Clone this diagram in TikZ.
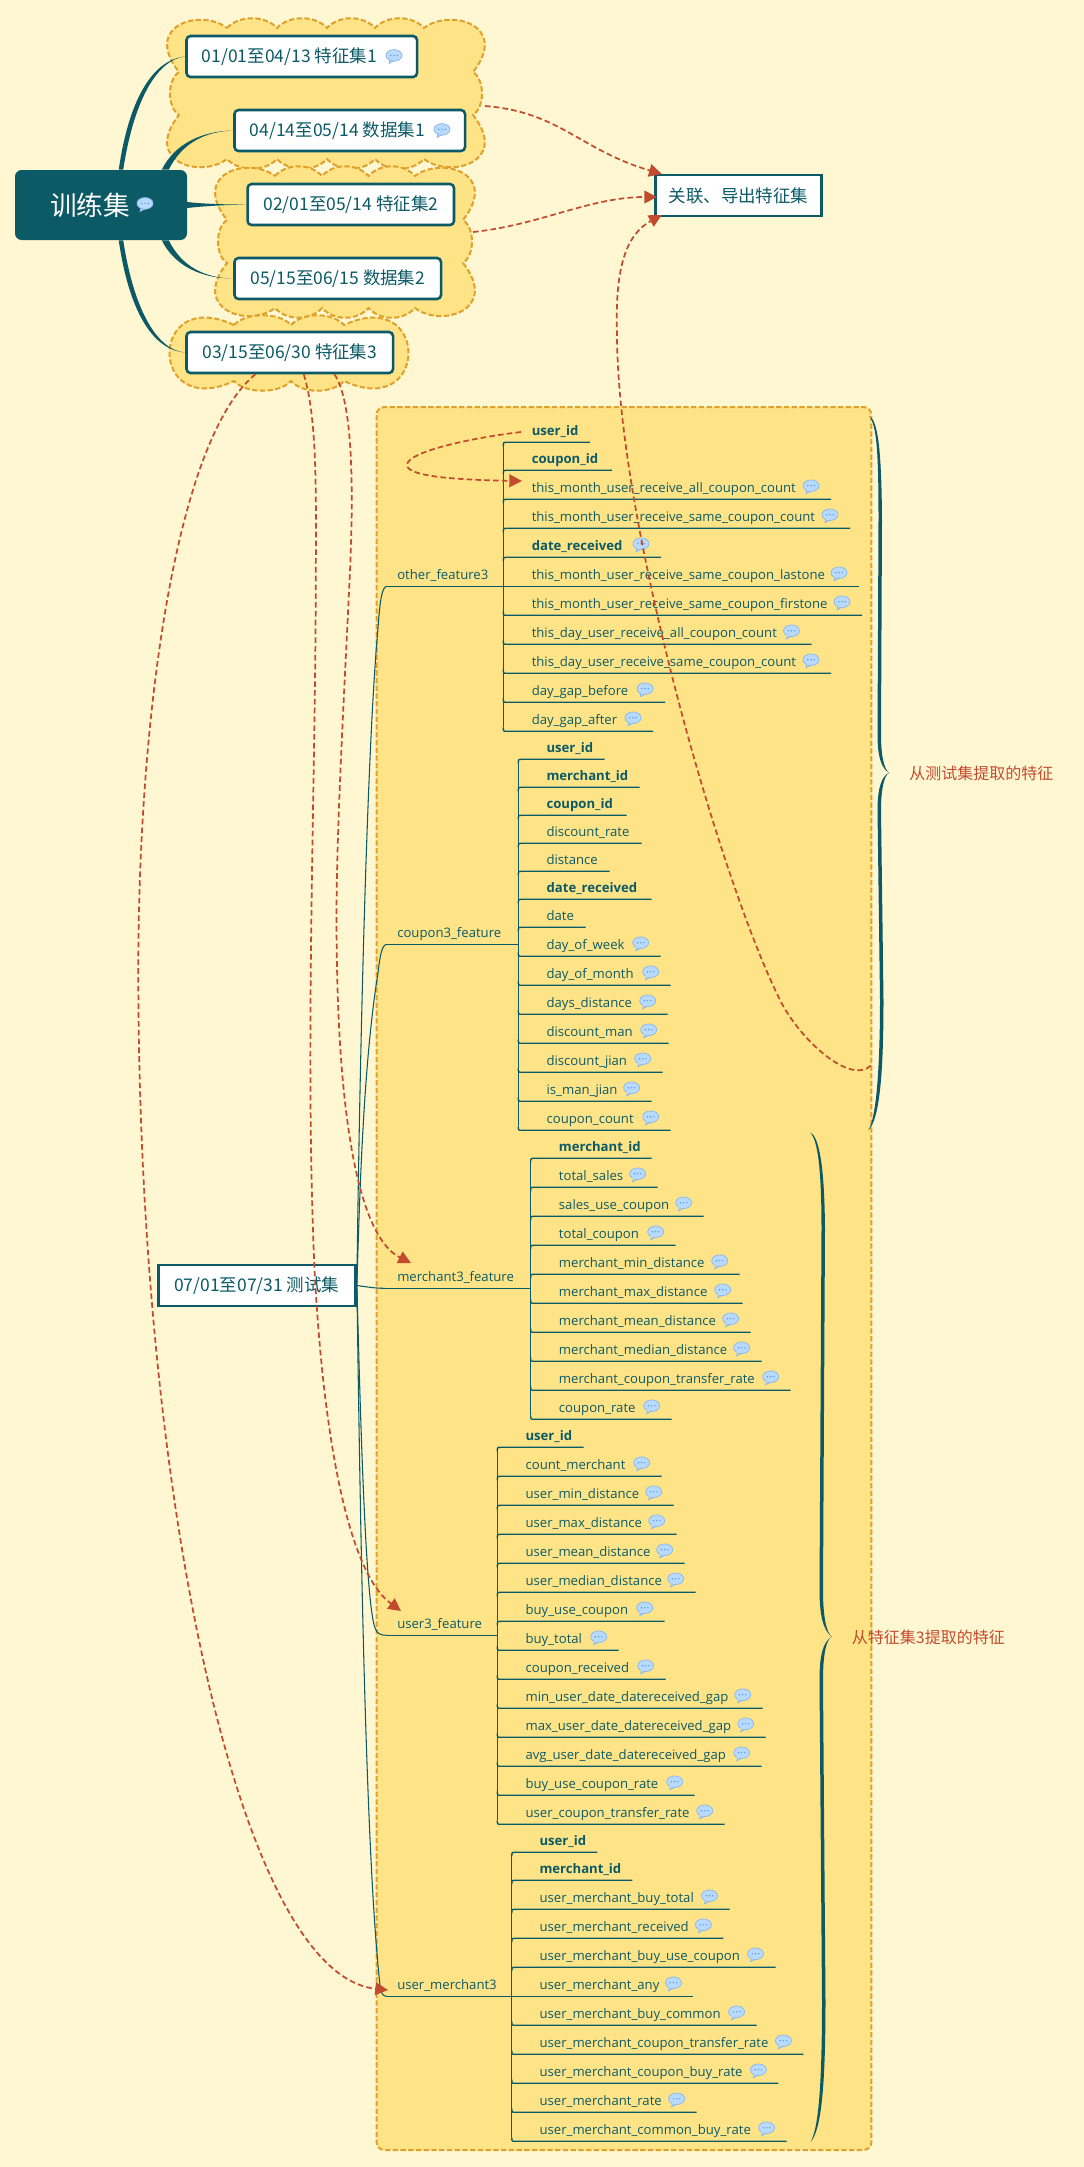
\documentclass[tikz,border=0pt]{standalone}
\usepackage{fontspec}
\setmainfont{Open Sans}
\newfontfamily\cjk{Noto Sans CJK SC}
\usetikzlibrary{arrows.meta,calc}
\definecolor{bgc}{HTML}{FFF7D2}
\definecolor{grpc}{HTML}{FFE487}
\definecolor{dashc}{HTML}{E0A12B}
\definecolor{teal}{HTML}{0B5A66}
\definecolor{redc}{HTML}{C24B2E}
\definecolor{bubf}{HTML}{B9DAFF}
\definecolor{bubd}{HTML}{8AB8EC}
\definecolor{bubp}{HTML}{5C9DE8}
\tikzset{
  x=0.75pt,y=-0.75pt,
  grp/.style={fill=grpc,draw=dashc,line width=1.5pt,dash pattern=on 4pt off 1.8pt},
  tbox/.style={draw=teal,fill=white,line width=1.9pt,rounded corners=3pt,inner sep=0pt,minimum height=30.75pt,text=teal,font=\cjk\fontsize{13.1}{15}\selectfont},
  sbox/.style={tbox,rounded corners=0pt,line width=2.2pt},
  rootbox/.style={fill=teal,rounded corners=5pt,inner sep=0pt,text=white,minimum width=129pt,minimum height=52.5pt,font=\cjk\fontsize{20}{24}\selectfont},
  rowtext/.style={inner sep=0pt,anchor=base west,text=teal,font=\fontsize{9.85}{12}\selectfont},
  rowline/.style={draw=teal,line width=1pt},
  conn/.style={draw=teal,line width=.8pt},
  link/.style={draw=redc,line width=1.3pt,dash pattern=on 4.2pt off 2.4pt,-{Triangle[length=9.5pt,width=9.5pt,fill=redc]}},
  branch/.style={fill=teal,draw=none},
  note/.style={inner sep=0pt,text=redc,font=\cjk\fontsize{12}{14}\selectfont},
  cmt/.pic={
    \path[fill=bubf,draw=bubd,line width=.55pt] (-4,3.4) -- (-5,7.5) -- (0.5,4.6) -- cycle;
    \path[fill=bubf,draw=bubd,line width=.55pt] (0,-0.6) ellipse [x radius=8,y radius=5.8];
    \path[fill=bubf] (-4.3,2.6) rectangle (0.6,4.4);
    \foreach \dx in {-3.2,0,3.2}{\path[fill=bubp] (\dx,-0.6) circle [radius=0.8];}
  }
}
% rows of one topic: prefix, spine x, text x, centre y, first y, last y, list
\newcommand\rowsof[7]{%
  \draw[rowline] (#2,#5+4) -- (#2,#6-4);
  \foreach \yy/\xe/\kk/\txt [count=\ii] in {#7}{%
    \if b\kk\def\rowf{\bfseries}\else\if d\kk\def\rowf{\bfseries}\else\def\rowf{}\fi\fi
    \node[rowtext] (#1r\ii) at (#3,\yy-7.3) {\rowf\txt};
    \coordinate (#1e\ii) at (\xe,\yy);
    \ifdim\yy pt<#4pt
      \draw[rowline] (#2,\yy+4) .. controls (#2,\yy) .. (#2+4,\yy) -- (#1e\ii);
    \else\ifdim\yy pt>#4pt
      \draw[rowline] (#2,\yy-4) .. controls (#2,\yy) .. (#2+4,\yy) -- (#1e\ii);
    \else
      \draw[rowline] (#2,\yy) -- (#1e\ii);
    \fi\fi
    \if c\kk\pic at (\xe-20,\yy-13) {cmt};\fi
    \if d\kk\pic at (\xe-20,\yy-13) {cmt};\fi
  }%
}
\begin{document}
\begin{tikzpicture}
\useasboundingbox (0,0) rectangle (1084,2167);
\fill[bgc] (0,0) rectangle (1084,2167);
% clouds
\path[grp] (227,28) foreach \x in {277,327,375,424}{ .. controls +(12,-13) and +(-12,-13) .. (\x,28)}
  .. controls +(26,-20) and +(37,-47) .. (473,72)
  .. controls +(12,8) and +(12,-8) .. (473,115)
  .. controls +(37,47) and +(26,20) .. (424,159)
  foreach \x in {375,327,277,227}{ .. controls +(-12,13) and +(12,13) .. (\x,159)}
  .. controls +(-26,20) and +(-37,47) .. (179,115)
  .. controls +(-12,-8) and +(-12,8) .. (179,72)
  .. controls +(-37,-47) and +(-26,-20) .. (227,28) -- cycle;
\path[grp] (275,176) foreach \x in {322,368.5,415}{ .. controls +(12,-13) and +(-12,-13) .. (\x,176)}
  .. controls +(26,-20) and +(37,-47) .. (463,220)
  .. controls +(12,8) and +(12,-8) .. (463,263)
  .. controls +(37,47) and +(26,20) .. (415,308)
  foreach \x in {368.5,322,275}{ .. controls +(-12,13) and +(12,13) .. (\x,308)}
  .. controls +(-26,20) and +(-37,47) .. (227,263)
  .. controls +(-12,-8) and +(-12,8) .. (227,220)
  .. controls +(-37,-47) and +(-26,-20) .. (275,176) -- cycle;
\path[grp] (234,325) foreach \x in {291,344}{ .. controls +(12,-13) and +(-12,-13) .. (\x,325)}
  .. controls (430,285) and (430,421) .. (344,381)
  foreach \x in {291,234}{ .. controls +(-12,13) and +(12,13) .. (\x,381)}
  .. controls (148,421) and (148,285) .. (234,325) -- cycle;
% big group
\path[grp,rounded corners=6pt] (376.5,407) rectangle (871.4,2150);
% main nodes
\node[rootbox] (root) at (101,205) {\hspace*{-16.5pt}训练集};
\pic at (145,204) {cmt};
\node[tbox,minimum width=172.9pt] (b1) at (301.75,56.5) {\hspace*{-18.6pt}01/01至04/13 特征集1};
\pic at (394,56) {cmt};
\node[tbox,minimum width=172.9pt] (b2) at (349.75,130.5) {\hspace*{-18.6pt}04/14至05/14 数据集1};
\pic at (442,130) {cmt};
\node[tbox,minimum width=154.8pt] (b3) at (350.8,204.5) {02/01至05/14 特征集2};
\node[tbox,minimum width=154.9pt] (b4) at (337.75,278.5) {05/15至06/15 数据集2};
\node[tbox,minimum width=154.9pt] (b5) at (289.75,352.5) {03/15至06/30 特征集3};
\node[sbox,minimum width=148pt] (test) at (256.75,1285.5) {07/01至07/31 测试集};
\node[sbox,minimum width=124.2pt] (out) at (738.5,195.5) {关联、导出特征集};
% root branches
\path[branch] ($(root.north west)+(104,0)$) .. controls (128,105) and (150,60) .. (b1.west) .. controls (155,60) and (133,105) .. ($(root.north west)+(108.5,0)$) -- cycle;
\path[branch] ($(root.north west)+(147,0)$) .. controls (175,143) and (203,131) .. (b2.west) .. controls (205,131.5) and (182,143) .. ($(root.north west)+(154,0)$) -- cycle;
\path[branch] (187,202) .. controls (205,204) and (225,204.5) .. (b3.west) .. controls (225,205) and (205,206) .. (187,208) -- cycle;
\path[branch] ($(root.south west)+(147,0)$) .. controls (175,267) and (203,278.5) .. (b4.west) .. controls (205,278) and (182,267) .. ($(root.south west)+(154,0)$) -- cycle;
\path[branch] ($(root.south west)+(104,0)$) .. controls (128,305) and (150,350) .. (b5.west) .. controls (155,350) and (133,305) .. ($(root.south west)+(108.5,0)$) -- cycle;
% topic labels
\node[rowtext] (t1) at (397,579) {other\_feature3};
\node[rowtext] (t2) at (397,937) {coupon3\_feature};
\node[rowtext] (t3) at (397,1281) {merchant3\_feature};
\node[rowtext] (t4) at (397,1628) {user3\_feature};
\node[rowtext] (t5) at (397,1989) {user\_merchant3};
\coordinate (s1) at (387,586.3);\coordinate (s2) at (387,944.3);\coordinate (s3) at (385,1288.3);\coordinate (s4) at (387,1635.3);\coordinate (s5) at (387,1996.3);
\coordinate (j1) at (503.3,586.3);\coordinate (j2) at (518.3,944.3);\coordinate (j3) at (530.7,1288.3);\coordinate (j4) at (497.3,1635.3);\coordinate (j5) at (511.8,1996.3);
\draw[conn] (test.east) .. controls (359,1100) and (366,760) .. (378,628) .. controls (380,600) and (382,586.3) .. (s1);
\draw[rowline] (s1) -- (j1);
\draw[conn] (test.east) .. controls (360,1180) and (364,1060) .. (378,973) .. controls (380,955) and (382,944.3) .. (s2);
\draw[rowline] (s2) -- (j2);
\draw[conn] (test.east) .. controls (368,1287) and (375,1288.3) .. (s3);
\draw[rowline] (s3) -- (j3);
\draw[conn] (test.east) .. controls (360,1400) and (365,1600) .. (375,1628) .. controls (377,1634) and (381,1635.3) .. (s4);
\draw[rowline] (s4) -- (j4);
\draw[conn] (test.east) .. controls (360,1500) and (365,1850) .. (380,1985) .. controls (381,1994) and (383,1996.3) .. (s5);
\draw[rowline] (s5) -- (j5);
% rows
\rowsof{a}{503.3}{531.5}{586.3}{442.3}{731.3}{
442.3/590/b/user\_id,470.3/612/b/coupon\_id,499.3/831/c/this\_month\_user\_receive\_all\_coupon\_count,528.3/850/c/this\_month\_user\_receive\_same\_coupon\_count,557.3/661/d/date\_received,586.3/859/c/this\_month\_user\_receive\_same\_coupon\_lastone,615.3/862/c/this\_month\_user\_receive\_same\_coupon\_firstone,644.3/811.5/c/this\_day\_user\_receive\_all\_coupon\_count,673.3/831/c/this\_day\_user\_receive\_same\_coupon\_count,702.3/665/c/day\_gap\_before,731.3/653/c/day\_gap\_after}
\rowsof{b}{518.3}{546.3}{944.3}{759.3}{1130.3}{
759.3/604.7/b/user\_id,787.3/639.7/b/merchant\_id,815.3/626.7/b/coupon\_id,843.3/641.7/n/discount\_rate,871.3/609.7/n/distance,899.3/651.7/b/date\_received,927.3/585.7/n/date,956.3/660.7/c/day\_of\_week,985.3/670.7/c/day\_of\_month,1014.3/667.7/c/days\_distance,1043.3/668.7/c/discount\_man,1072.3/662.7/c/discount\_jian,1101.3/651.7/c/is\_man\_jian,1130.3/670.7/c/coupon\_count}
\rowsof{c}{530.7}{558.7}{1288.3}{1158.3}{1419.3}{
1158.3/651.7/b/merchant\_id,1187.3/657.7/c/total\_sales,1216.3/703.7/c/sales\_use\_coupon,1245.3/675.7/c/total\_coupon,1274.3/739.7/c/merchant\_min\_distance,1303.3/742.7/c/merchant\_max\_distance,1332.3/750.7/c/merchant\_mean\_distance,1361.3/761.7/c/merchant\_median\_distance,1390.3/790.7/c/merchant\_coupon\_transfer\_rate,1419.3/671.7/c/coupon\_rate}
\rowsof{d}{497.3}{525.3}{1635.3}{1447.3}{1824.3}{
1447.3/583.7/b/user\_id,1476.3/661.7/c/count\_merchant,1505.3/673.7/c/user\_min\_distance,1534.3/676.7/c/user\_max\_distance,1563.3/684.7/c/user\_mean\_distance,1592.3/695.7/c/user\_median\_distance,1621.3/664.7/c/buy\_use\_coupon,1650.3/618.7/c/buy\_total,1679.3/665.7/c/coupon\_received,1708.3/762.7/c/min\_user\_date\_datereceived\_gap,1737.3/765.7/c/max\_user\_date\_datereceived\_gap,1766.3/761.7/c/avg\_user\_date\_datereceived\_gap,1795.3/694.7/c/buy\_use\_coupon\_rate,1824.3/724.7/c/user\_coupon\_transfer\_rate}
\rowsof{e}{511.8}{539.3}{1996.3}{1852.3}{2141.3}{
1852.3/597.4/b/user\_id,1880.3/632.4/b/merchant\_id,1909.3/729.5/c/user\_merchant\_buy\_total,1938.3/723.4/c/user\_merchant\_received,1967.3/775.5/c/user\_merchant\_buy\_use\_coupon,1996.3/693.4/c/user\_merchant\_any,2025.3/756.6/c/user\_merchant\_buy\_common,2054.3/803.4/c/user\_merchant\_coupon\_transfer\_rate,2083.3/778.4/c/user\_merchant\_coupon\_buy\_rate,2112.3/696.6/c/user\_merchant\_rate,2141.3/786.6/c/user\_merchant\_common\_buy\_rate}
% braces
\path[branch] (869,416) .. controls (878,420) and (881.5,450) .. (882,520) -- (881,735) .. controls (881,755) and (884,770) .. (889.3,772.7)
  .. controls (884,775) and (881,790) .. (881,810) -- (883.5,1000) .. controls (883.5,1070) and (880,1120) .. (868,1130.7)
  .. controls (877,1118) and (880,1060) .. (880,1000) -- (877.5,810) .. controls (877.5,790) and (881,776) .. (889.3,772.7)
  .. controls (881,769) and (877.5,755) .. (877.5,735) -- (878.5,520) .. controls (878.5,455) and (877,425) .. (869,416) -- cycle;
\path[branch] (810,1132.3) .. controls (819,1136) and (824.5,1165) .. (825,1230) -- (823,1590) .. controls (823,1615) and (826,1632) .. (831.7,1636.7)
  .. controls (826,1640) and (823,1655) .. (823,1680) -- (825.5,2000) .. controls (825.5,2080) and (822,2130) .. (810.5,2142)
  .. controls (819,2128) and (822,2080) .. (822,2000) -- (819.5,1680) .. controls (819.5,1655) and (823,1642) .. (831.7,1636.7)
  .. controls (823,1630) and (819.5,1615) .. (819.5,1590) -- (821.5,1230) .. controls (821.5,1170) and (818,1140) .. (810,1132.3) -- cycle;
\node[note,anchor=west] (n1) at (909,773) {从测试集提取的特征};
\node[note,anchor=west] (n2) at (851.7,1637) {从特征集3提取的特征};
% links
\coordinate (l1) at (485,106);\coordinate (l2) at (473,232);\coordinate (l3) at (870.7,1065.7);
\coordinate (o1) at (661.7,174);\coordinate (o2) at (657,197);\coordinate (o3) at (661.7,215);
\coordinate (a1) at (521,432);\coordinate (a2) at (522,481);
\coordinate (a3) at (411,1263);\coordinate (a4) at (401,1611);\coordinate (a5) at (388,1990);
\draw[link] (l1) .. controls (560,112) and (580,150) .. (o1);
\draw[link] (l2) .. controls (540,225) and (590,197) .. (o2);
\draw[link] (l3) .. controls (850,1085) and (800,1040) .. (780,1000) .. controls (720,880) and (617,520) .. (617,333) .. controls (615,270) and (625,235) .. (o3);
\draw[link] (a1) .. controls (470,438) and (407,452) .. (407,465) .. controls (407,478) and (470,480) .. (a2);
\draw[link] ($(b5.south west)+(149.2,0)$) .. controls (352,400) and (354,480) .. (350,571) .. controls (344,700) and (335,850) .. (336.7,944) .. controls (338,1100) and (355,1235) .. (a3);
\draw[link] ($(b5.south west)+(118.5,0)$) .. controls (318,420) and (316,500) .. (315.7,600) .. controls (315,800) and (305,1050) .. (314.3,1265) .. controls (322,1420) and (345,1570) .. (a4);
\draw[link] ($(b5.south west)+(70.2,0)$) .. controls (175,440) and (138,720) .. (138.3,973) .. controls (138.5,1500) and (240,1975) .. (a5);
\end{tikzpicture}
\end{document}
